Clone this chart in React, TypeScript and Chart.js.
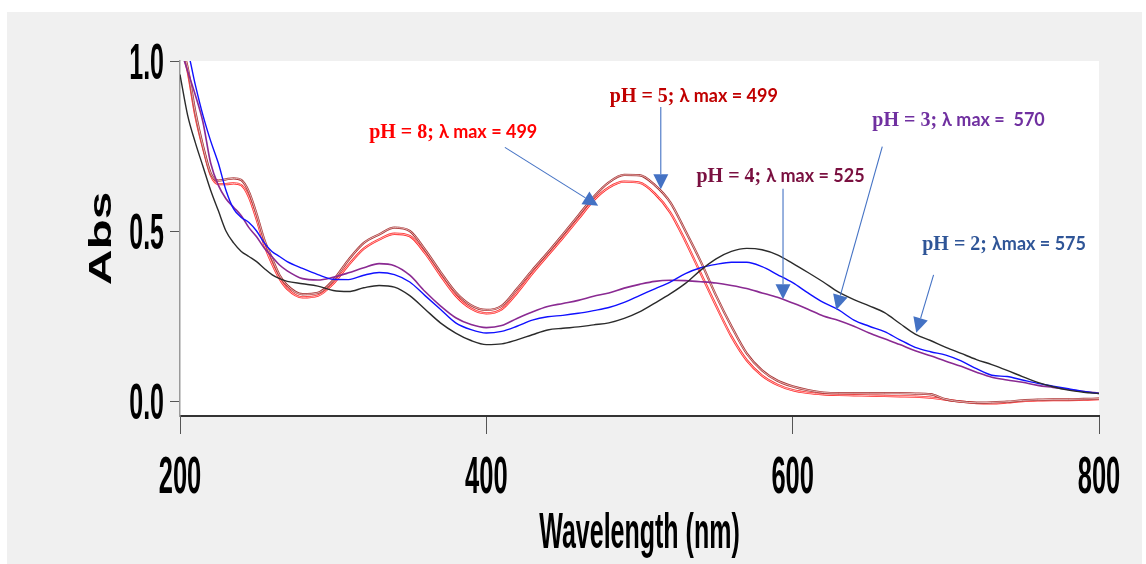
import React, { useEffect, useRef } from "react";
import { Chart, registerables } from "chart.js";

Chart.register(...registerables);

// Wavelength grid (nm)
const wavelengths = [
  200, 205, 210, 215, 220, 225, 230, 235, 240, 245, 250, 255, 260, 265, 270,
  280, 290, 300, 310, 320, 330, 340, 350, 360, 370, 380, 390, 400, 410, 420,
  430, 440, 450, 460, 470, 480, 490, 500, 510, 520, 530, 540, 550, 560, 570,
  580, 590, 600, 610, 620, 630, 640, 650, 660, 670, 680, 690, 700, 710, 720,
  730, 740, 750, 760, 770, 780, 790, 800,
];

// pH = 2 (black)
const absPH2 = [
  0.96, 0.84, 0.76, 0.69, 0.62, 0.56, 0.5, 0.465, 0.44, 0.425, 0.41, 0.39, 0.372, 0.36, 0.352,
  0.345, 0.338, 0.325, 0.322, 0.333, 0.34, 0.335, 0.31, 0.27, 0.23, 0.2, 0.178, 0.166, 0.168, 0.18,
  0.195, 0.209, 0.214, 0.218, 0.224, 0.23, 0.243, 0.262, 0.288, 0.315, 0.346, 0.385, 0.418, 0.44, 0.449,
  0.445, 0.43, 0.405, 0.378, 0.35, 0.32, 0.298, 0.28, 0.26, 0.228, 0.197, 0.178, 0.158, 0.14, 0.122,
  0.107, 0.09, 0.072, 0.055, 0.042, 0.032, 0.026, 0.022,
];

// pH = 3 (blue)
const absPH3 = [
  1.08, 1.03, 0.93, 0.84, 0.765, 0.7, 0.62, 0.565, 0.54, 0.525, 0.5, 0.465, 0.44, 0.425, 0.41,
  0.39, 0.372, 0.358, 0.357, 0.37, 0.378, 0.372, 0.35, 0.31, 0.27, 0.23, 0.21, 0.2, 0.205, 0.22,
  0.238, 0.248, 0.252, 0.258, 0.266, 0.275, 0.29, 0.31, 0.33, 0.35, 0.375, 0.392, 0.402, 0.408, 0.408,
  0.395, 0.372, 0.348, 0.318, 0.29, 0.268, 0.238, 0.22, 0.204, 0.18, 0.158, 0.145, 0.135, 0.118, 0.095,
  0.076, 0.072, 0.062, 0.052, 0.044, 0.036, 0.028, 0.022,
];

// pH = 4 (purple)
const absPH4 = [
  1.04, 0.97, 0.9, 0.82, 0.7, 0.635, 0.595, 0.57, 0.545, 0.51, 0.483, 0.45, 0.425, 0.4, 0.383,
  0.36, 0.356, 0.364, 0.377, 0.392, 0.404, 0.398, 0.37, 0.322, 0.28, 0.245, 0.225, 0.216, 0.222, 0.243,
  0.262, 0.278, 0.287, 0.296, 0.308, 0.318, 0.332, 0.343, 0.352, 0.355, 0.354, 0.351, 0.347, 0.34, 0.331,
  0.318, 0.305, 0.288, 0.27, 0.25, 0.237, 0.22, 0.2, 0.183, 0.166, 0.148, 0.133, 0.117, 0.102, 0.085,
  0.07, 0.062, 0.055, 0.046, 0.04, 0.034, 0.028, 0.023,
];

// pH = 5 (dark red)
const absPH5 = [
  1.06, 0.98, 0.85, 0.75, 0.67, 0.648, 0.652, 0.655, 0.65, 0.615, 0.55, 0.475, 0.42, 0.37, 0.34,
  0.314, 0.318, 0.355, 0.415, 0.465, 0.49, 0.51, 0.5, 0.445, 0.38, 0.32, 0.282, 0.268, 0.28, 0.33,
  0.385, 0.436, 0.49, 0.545, 0.6, 0.643, 0.665, 0.664, 0.635, 0.585, 0.5, 0.41, 0.31, 0.22, 0.14,
  0.09, 0.06, 0.043, 0.032, 0.025, 0.023, 0.023, 0.023, 0.023, 0.023, 0.022, 0.02, 0.005, -0.002, -0.005,
  -0.004, -0.002, 0.002, 0.004, 0.005, 0.005, 0.006, 0.007,
];

// pH = 8 (red)
const absPH8 = [
  1.06, 0.97, 0.84, 0.745, 0.665, 0.638, 0.638, 0.64, 0.635, 0.6, 0.535, 0.46, 0.405, 0.36, 0.33,
  0.305, 0.31, 0.345, 0.4, 0.448, 0.475, 0.492, 0.485, 0.435, 0.37, 0.31, 0.272, 0.258, 0.27, 0.318,
  0.375, 0.428, 0.48, 0.535, 0.59, 0.628, 0.645, 0.642, 0.61, 0.555, 0.47, 0.375, 0.28, 0.19, 0.12,
  0.075, 0.048, 0.032, 0.024, 0.02, 0.018, 0.017, 0.016, 0.015, 0.014, 0.013, 0.01, 0.004, -0.002, -0.006,
  -0.007, -0.004, 0.0, 0.002, 0.003, 0.003, 0.004, 0.006,
];

const xTickValues = [200, 400, 600, 800];
const yTickValues = [0, 0.5, 1.0];

const seriesNames = ["pH = 2", "pH = 3", "pH = 4", "pH = 5", "pH = 8"];

// Callout texts
const calloutPh = ["pH = 8; ", "pH = 5; ", "pH = 4; ", "pH = 3; ", "pH = 2; "];
const calloutLambda = ["λ max = 499", "λ max = 499", "λ max = 525", "λ max =  570", "λmax = 575"];

const AXIS_FONT = "'Liberation Sans', Arial, sans-serif";

// Callout placement (in data units) and styling
const calloutLayout = [
  { tx: 323.5, ty: 0.774, fx: 412.1, fy: 0.746, ax: 473.0, ay: 0.574, color: "#ff0000" },
  { tx: 480.6, ty: 0.879, fx: 513.9, fy: 0.865, ax: 513.9, ay: 0.623, color: "#c00000" },
  { tx: 537.2, ty: 0.644, fx: 593.7, fy: 0.624, ax: 593.7, ay: 0.299, color: "#7a1040" },
  { tx: 652.0, ty: 0.809, fx: 658.5, fy: 0.748, ax: 628.5, ay: 0.268, color: "#7030a0" },
  { tx: 684.6, ty: 0.444, fx: 692.0, fy: 0.371, ax: 680.7, ay: 0.201, color: "#2f5597" },
];

function drawStretched(
  ctx: CanvasRenderingContext2D,
  text: string,
  x: number,
  y: number,
  font: string,
  sx: number,
  sy: number,
  align: CanvasTextAlign,
  rotation = 0
) {
  ctx.save();
  ctx.translate(x, y);
  if (rotation) ctx.rotate(rotation);
  ctx.scale(sx, sy);
  ctx.font = font;
  ctx.fillStyle = "#000000";
  ctx.textAlign = align;
  ctx.textBaseline = "alphabetic";
  ctx.fillText(text, 0, 0);
  ctx.restore();
}

// Axis labels in the reference are tall, narrow (condensed) glyphs
const axisTextPlugin = {
  id: "axisText",
  beforeDraw(chart: any) {
    const xs = chart.scales.x;
    const ys = chart.scales.y;
    xs.drawLabels = function () {
      const ctx = this.ctx;
      this.ticks.forEach((t: any) => {
        const px = this.getPixelForValue(t.value);
        drawStretched(ctx, String(t.label), px, this.top + 77, `bold 51px ${AXIS_FONT}`, 0.5, 1, "center");
      });
    };
    ys.drawLabels = function () {
      const ctx = this.ctx;
      this.ticks.forEach((t: any) => {
        const py = this.getPixelForValue(t.value);
        drawStretched(ctx, String(t.label), this.right - 16, py + 17.5, `bold 50px ${AXIS_FONT}`, 0.5, 1, "right");
      });
    };
    xs.drawTitle = function () {
      const ctx = this.ctx;
      const cx = (this.left + this.right) / 2;
      drawStretched(ctx, String(this.options.title.text), cx, this.bottom - 16, `bold 50px ${AXIS_FONT}`, 0.5, 1, "center");
    };
    ys.drawTitle = function () {
      const ctx = this.ctx;
      const cy = (this.top + this.bottom) / 2;
      drawStretched(ctx, String(this.options.title.text), this.left + 111, cy, `bold 31px ${AXIS_FONT}`, 1.6, 1, "center", -Math.PI / 2);
    };
  },
};

const backgroundPlugin = {
  id: "panelBackground",
  beforeDraw(chart: any) {
    const { ctx, width, height, chartArea } = chart;
    ctx.save();
    ctx.fillStyle = "#ffffff";
    ctx.fillRect(0, 0, width, height);
    ctx.fillStyle = "#f0f0f0";
    ctx.fillRect(7, 12, 1142 - 7, height - 12);
    ctx.fillStyle = "#ffffff";
    ctx.fillRect(chartArea.left, chartArea.top, chartArea.right - chartArea.left, chartArea.bottom - chartArea.top);
    ctx.restore();
  },
};

const hollowLinePlugin = {
  id: "hollowLine",
  afterDatasetDraw(chart: any, args: any) {
    const ds: any = chart.data.datasets[args.index];
    if (!ds.innerColor) return;
    const pts = args.meta.data;
    if (!pts || pts.length < 2) return;
    const { ctx, chartArea } = chart;
    ctx.save();
    ctx.beginPath();
    ctx.rect(chartArea.left, chartArea.top, chartArea.right - chartArea.left, chartArea.bottom - chartArea.top);
    ctx.clip();
    ctx.beginPath();
    ctx.moveTo(pts[0].x, pts[0].y);
    for (let i = 1; i < pts.length; i++) {
      const p = pts[i - 1];
      const c = pts[i];
      if (p.cp2x !== undefined && c.cp1x !== undefined) {
        ctx.bezierCurveTo(p.cp2x, p.cp2y, c.cp1x, c.cp1y, c.x, c.y);
      } else {
        ctx.lineTo(c.x, c.y);
      }
    }
    ctx.strokeStyle = ds.innerColor;
    ctx.lineWidth = ds.innerWidth || 1;
    ctx.lineJoin = "round";
    ctx.stroke();
    ctx.restore();
  },
};

const calloutPlugin = {
  id: "callouts",
  afterDraw(chart: any) {
    const { ctx } = chart;
    const xs = chart.scales.x;
    const ys = chart.scales.y;
    ctx.save();
    calloutLayout.forEach((c, i) => {
      const tx = xs.getPixelForValue(c.tx);
      const ty = ys.getPixelForValue(c.ty);
      ctx.fillStyle = c.color;
      ctx.textBaseline = "alphabetic";
      ctx.textAlign = "left";
      ctx.font = "bold 20px 'Liberation Serif', 'DejaVu Serif', serif";
      ctx.fillText(calloutPh[i], tx, ty);
      const w = ctx.measureText(calloutPh[i]).width;
      ctx.font = "bold 18px Lato, 'Open Sans', 'Noto Sans', sans-serif";
      ctx.fillText(calloutLambda[i], tx + w, ty);

      const x1 = xs.getPixelForValue(c.fx);
      const y1 = ys.getPixelForValue(c.fy);
      const x2 = xs.getPixelForValue(c.ax);
      const y2 = ys.getPixelForValue(c.ay);
      const ang = Math.atan2(y2 - y1, x2 - x1);
      const headLen = 15;
      const headHalf = 7.5;
      const bx = x2 - headLen * Math.cos(ang);
      const by = y2 - headLen * Math.sin(ang);
      ctx.strokeStyle = "#4472c4";
      ctx.lineWidth = 1.1;
      ctx.beginPath();
      ctx.moveTo(x1, y1);
      ctx.lineTo(bx, by);
      ctx.stroke();
      ctx.fillStyle = "#4472c4";
      ctx.beginPath();
      ctx.moveTo(x2, y2);
      ctx.lineTo(bx + headHalf * Math.sin(ang), by - headHalf * Math.cos(ang));
      ctx.lineTo(bx - headHalf * Math.sin(ang), by + headHalf * Math.cos(ang));
      ctx.closePath();
      ctx.fill();
    });
    ctx.restore();
  },
};

export default function App() {
  const canvasRef = useRef<HTMLCanvasElement | null>(null);

  useEffect(() => {
    const canvas = canvasRef.current;
    if (!canvas) return;

    const makeSeries = (vals: number[]) => wavelengths.map((w, i) => ({ x: w, y: vals[i] }));

    const chart = new Chart(canvas, {
      type: "line",
      data: {
        datasets: [
          { label: seriesNames[0], data: makeSeries(absPH2), borderColor: "#2b2b2b", borderWidth: 1.4 },
          { label: seriesNames[1], data: makeSeries(absPH3), borderColor: "#1010ff", borderWidth: 1.4 },
          { label: seriesNames[2], data: makeSeries(absPH4), borderColor: "#8a2a92", borderWidth: 1.6 },
          { label: seriesNames[3], data: makeSeries(absPH5), borderColor: "#a83434", borderWidth: 2.3, innerColor: "#f3d6d6", innerWidth: 0.8 } as any,
          { label: seriesNames[4], data: makeSeries(absPH8), borderColor: "#ff2a2a", borderWidth: 2.3, innerColor: "#ffd8d8", innerWidth: 0.8 } as any,
        ],
      },
      options: {
        animation: false,
        responsive: false,
        devicePixelRatio: 1,
        layout: { padding: { left: 0, top: 61, right: 47, bottom: 0 } },
        elements: {
          point: { radius: 0, hoverRadius: 0 },
          line: { cubicInterpolationMode: "monotone", fill: false },
        },
        plugins: {
          legend: { display: false },
          tooltip: { enabled: false },
          title: { display: false },
        },
        scales: {
          x: {
            type: "linear",
            min: 200,
            max: 800,
            afterBuildTicks: (s: any) => {
              s.ticks = xTickValues.map((v) => ({ value: v }));
            },
            afterFit: (s: any) => {
              s.height = 148;
            },
            grid: { drawOnChartArea: false, drawTicks: true, tickLength: 18, color: "#555555", lineWidth: 1 },
            border: { display: true, color: "#333333", width: 2 },
            ticks: {
              color: "#000000",
              padding: 17,
              maxRotation: 0,
              font: { family: AXIS_FONT, size: 24, weight: "bold" },
              callback: (v: any) => String(v),
            },
            title: {
              display: true,
              text: "Wavelength (nm)",
              color: "#000000",
              font: { family: AXIS_FONT, size: 27, weight: "bold" },
            },
          },
          y: {
            type: "linear",
            min: -0.044,
            max: 1.0,
            afterBuildTicks: (s: any) => {
              s.ticks = yTickValues.map((v) => ({ value: v }));
            },
            afterFit: (s: any) => {
              s.width = 180;
            },
            grid: { drawOnChartArea: false, drawTicks: true, tickLength: 10, color: "#555555", lineWidth: 1 },
            border: { display: true, color: "#9a9a9a", width: 1.5 },
            ticks: {
              color: "#000000",
              padding: 6,
              font: { family: AXIS_FONT, size: 24, weight: "bold" },
              callback: (v: any) => Number(v).toFixed(1),
            },
            title: {
              display: true,
              text: "Abs",
              color: "#000000",
              font: { family: AXIS_FONT, size: 30, weight: "bold" },
            },
          },
        },
      },
      plugins: [backgroundPlugin, axisTextPlugin, hollowLinePlugin, calloutPlugin],
    });

    return () => {
      chart.destroy();
    };
  }, []);

  return (
    <canvas
      ref={canvasRef}
      width={1146}
      height={564}
      style={{ position: "fixed", left: 0, top: 0, width: "1146px", height: "564px" }}
    />
  );
}
